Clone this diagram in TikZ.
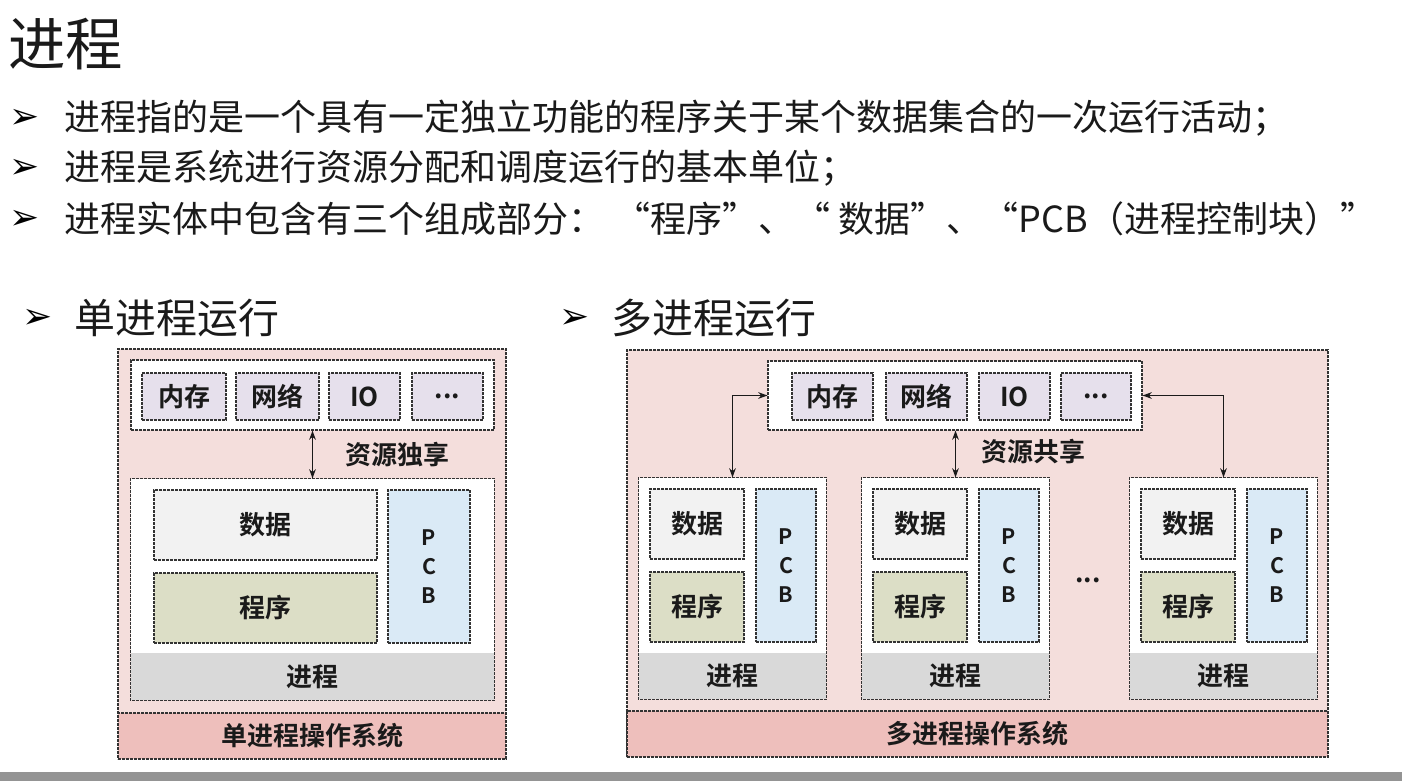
\documentclass[tikz,border=0pt]{standalone}
\usepackage{fontspec}
\setmainfont{Noto Sans CJK SC}[BoldFont={Noto Sans CJK SC Bold}]
\newfontfamily\dejavu{DejaVu Sans}
\usetikzlibrary{arrows.meta}
\definecolor{outerpink}{HTML}{F4DEDC}
\definecolor{bandpink}{HTML}{EEBFBC}
\definecolor{resc}{HTML}{E6E0EC}
\definecolor{datac}{HTML}{F2F2F2}
\definecolor{progc}{HTML}{DCDEC6}
\definecolor{pcbc}{HTML}{DAEAF6}
\definecolor{procg}{HTML}{D9D9D9}
\definecolor{dashc}{HTML}{333333}
\definecolor{txt}{HTML}{1A1A1A}
\tikzset{
  dl/.style={draw=dashc, dash pattern=on 2pt off 1pt, line width=0.8pt},
  bx/.style={dl, inner sep=0pt, text=txt, font=\bfseries\fontsize{19.5pt}{21pt}\selectfont},
  outerbox/.style={bx, fill=outerpink},
  bandbox/.style={bx, fill=bandpink},
  whitebox/.style={bx, fill=white},
  resbox/.style={bx, fill=resc},
  databox/.style={bx, fill=datac},
  progbox/.style={bx, fill=progc},
  pcbbox/.style={bx, fill=pcbc, align=center, font=\bfseries\fontsize{16pt}{21.75pt}\selectfont},
  procband/.style={inner sep=0pt, fill=procg, text=txt, font=\bfseries\fontsize{19.5pt}{21pt}\selectfont},
  lbl/.style={inner sep=0pt, text=txt, font=\bfseries\fontsize{19.5pt}{21pt}\selectfont},
  arr/.style={{Stealth[length=7pt,width=5pt]}-{Stealth[length=7pt,width=5pt]}, line width=0.8pt, draw=txt},
  title/.style={inner sep=0pt, anchor=west, text=txt, font=\fontsize{43pt}{47pt}\selectfont},
  bullet/.style={inner sep=0pt, text=black, font=\dejavu\fontsize{27pt}{30pt}\selectfont},
  btext/.style={inner sep=0pt, anchor=west, text=txt, font=\fontsize{27pt}{30pt}\selectfont},
  head/.style={inner sep=0pt, anchor=west, text=txt, font=\fontsize{30.7pt}{34pt}\selectfont},
}
% \bx{style}{name}{x1}{y1}{x2}{y2}{text}
\newcommand{\bx}[7]{%
  \node[#1, minimum width={((#5)-(#3))*0.75pt}, minimum height={((#6)-(#4))*0.75pt}]
    (#2) at ({((#3)+(#5))/2},{((#4)+(#6))/2}) {#7};}
\newcommand{\procunit}[2]{% #1 name prefix, #2 left x
  \bx{whitebox, draw=none}{#1}{#2}{478}{#2+187}{699}{}
  \bx{procband}{#1band}{#2}{653}{#2+187}{699}{进程}
  \draw[dl] (#1.north west) rectangle (#1.south east);
  \bx{databox}{#1data}{#2+11}{489}{#2+105}{559}{数据}
  \bx{progbox}{#1prog}{#2+11}{572}{#2+105}{642}{程序}
  \bx{pcbbox}{#1pcb}{#2+117}{489}{#2+177}{642}{P\\C\\B}
}
\begin{document}
\begin{tikzpicture}[x=0.75pt,y=-0.75pt]
\useasboundingbox (0,0) rectangle (1402,781);
\fill[white] (0,0) rectangle (1402,781);
\fill[black!42] (0,772) rectangle (1402,781);

% header
\node[title] (t) at (8,44) {进程};
\node[bullet] (b1) at (25,119) {➢};
\node[btext] (l1) at (64,118) {进程指的是一个具有一定独立功能的程序关于某个数据集合的一次运行活动；};
\node[bullet] (b2) at (25,169) {➢};
\node[btext] (l2) at (64,168) {进程是系统进行资源分配和调度运行的基本单位；};
\node[bullet] (b3) at (25,220) {➢};
\node[btext] (l3) at (64,219) {进程实体中包含有三个组成部分：\hspace{8pt}“程序”、“ 数据”、“PCB（进程控制块）”};

\node[bullet] (h1b) at (38,319) {➢};
\node[head] (h1) at (74,318) {单进程运行};
\node[bullet] (h2b) at (575,319) {➢};
\node[head] (h2) at (611,318) {多进程运行};

% single process
\bx{outerbox}{os1}{118}{349}{506}{759}{}
\bx{bandbox}{os1band}{118}{713}{506}{759}{单进程操作系统}
\bx{whitebox}{res1}{131}{360}{494}{430}{}
\bx{resbox}{r1a}{142}{373}{226}{420}{内存}
\bx{resbox}{r1b}{236}{373}{319}{420}{网络}
\bx{resbox}{r1c}{329}{373}{400}{420}{IO}
\bx{resbox}{r1d}{412}{373}{483}{420}{...}
\bx{whitebox, draw=none}{proc}{131}{479}{494}{700}{}
\bx{procband}{procband}{131}{653}{494}{700}{进程}
\draw[dl] (proc.north west) rectangle (proc.south east);
\bx{databox}{data}{154}{490}{377}{560}{数据}
\bx{progbox}{prog}{154}{573}{377}{643}{程序}
\bx{pcbbox}{pcb}{388}{490}{470}{643}{P\\C\\B}
\draw[arr] (res1.south) -- (proc.north);
\node[lbl] (share1) at (397,455) {资源独享};

% multi process
\bx{outerbox}{os2}{627}{350}{1328}{757}{}
\bx{bandbox}{os2band}{627}{711}{1328}{757}{多进程操作系统}
\bx{whitebox}{res2}{768}{361}{1142}{430}{}
\bx{resbox}{r2a}{792}{373}{873}{420}{内存}
\bx{resbox}{r2b}{886}{373}{967}{420}{网络}
\bx{resbox}{r2c}{979}{373}{1050}{420}{IO}
\bx{resbox}{r2d}{1061}{373}{1131}{420}{...}
\procunit{pa}{639}
\procunit{pb}{862}
\procunit{pc}{1130}
\node[lbl] (dots) at (1088,580) {...};
\draw[arr] (res2.west) -| (pa.north);
\draw[arr] (res2.south -| pb.north) -- (pb.north);
\draw[arr] (res2.east) -| (pc.north);
\node[lbl] (share2) at (1033,452) {资源共享};
\end{tikzpicture}
\end{document}
